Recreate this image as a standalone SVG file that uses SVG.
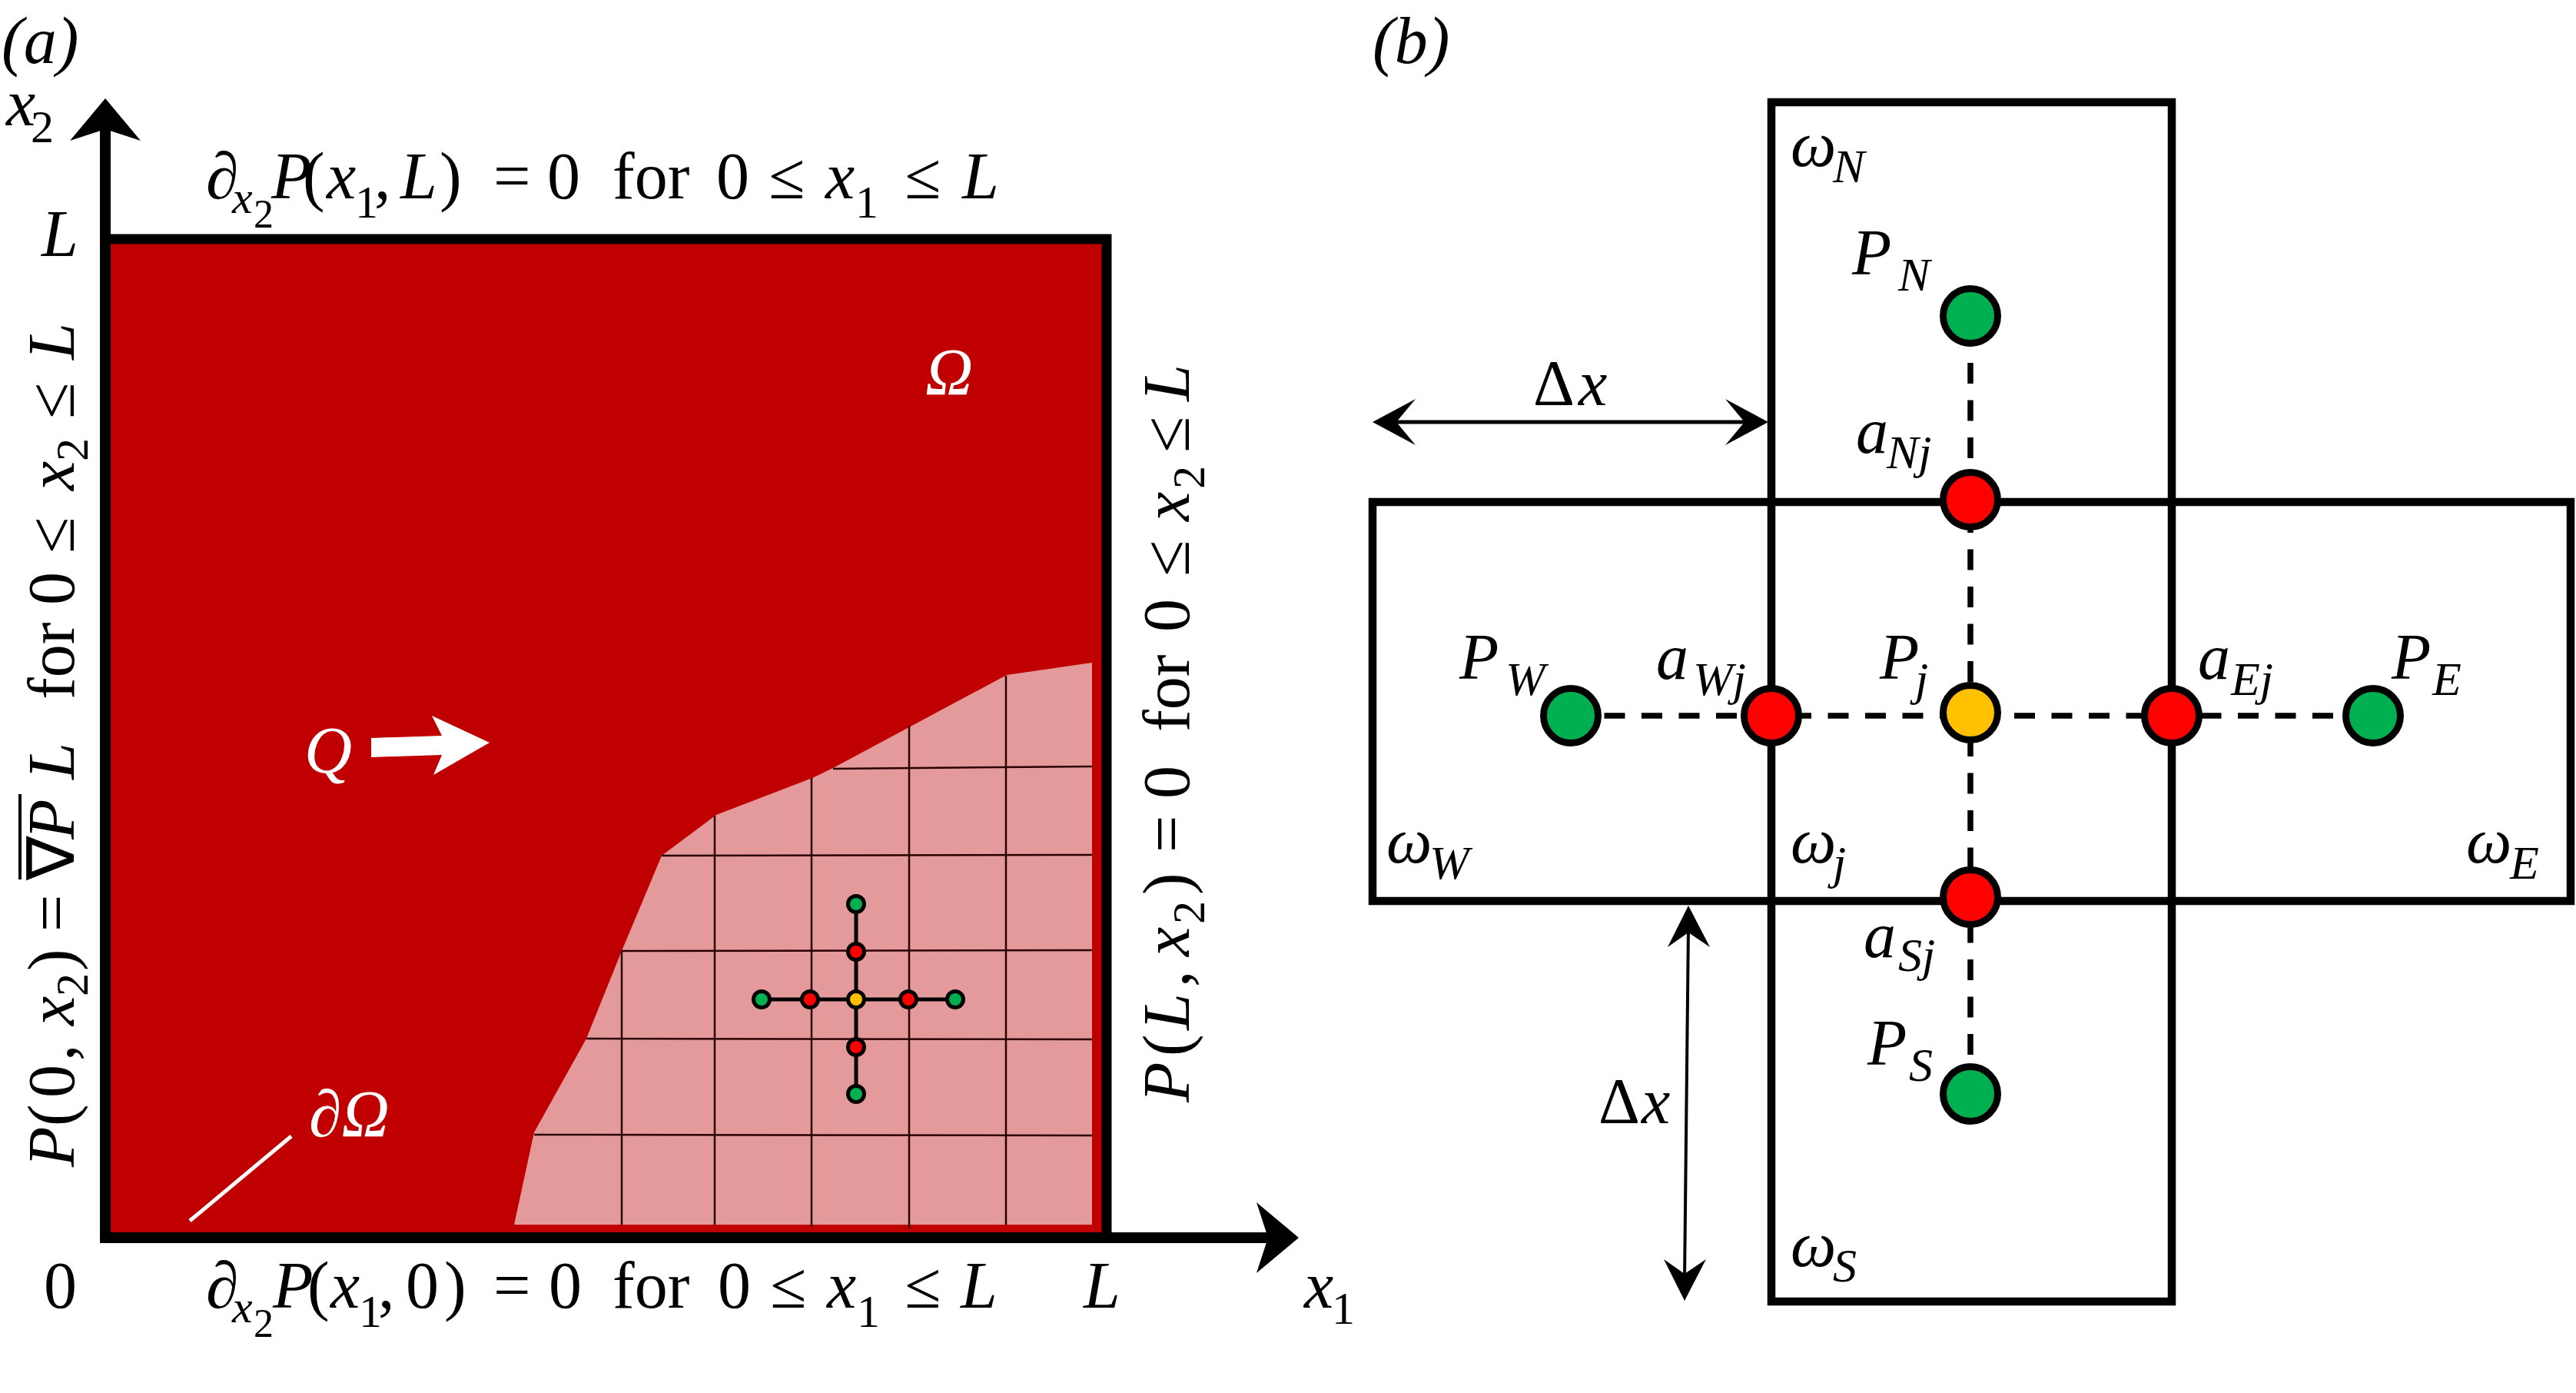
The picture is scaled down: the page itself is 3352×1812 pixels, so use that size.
<svg xmlns="http://www.w3.org/2000/svg" width="3352" height="1812" viewBox="0 0 3352 1812">
<style>
text{font-family:"Liberation Serif","Times New Roman",serif;font-size:86px;fill:#000}
.i{font-style:italic}
.w{fill:#fff}
.s{font-size:60px}
.ss{font-size:52px}
.b{font-size:84px}
.sb{font-size:62px}
.grid{stroke:#2a0000;stroke-width:2.5;fill:none}
.dash{stroke:#000;stroke-width:7.5;stroke-dasharray:27 21.5;fill:none}
.cb{stroke:#000;stroke-width:9}
.ca{stroke:#000;stroke-width:5}
.g{fill:#00B050}.r{fill:#FF0000}.y{fill:#FFC000}
.box{fill:none;stroke:#000;stroke-width:10.5}
.ax{stroke:#000;stroke-width:14;fill:none}
.arr{stroke:#000;stroke-width:5;fill:none}
</style>
<rect width="3352" height="1812" fill="#fff"/>

<g id="panel-a">
  <text id="label-a" class="i" x="2" y="82" font-size="92">(a)</text>
  <rect id="domain" x="138" y="311" width="1302" height="1299" fill="#C00000"/>
  <polygon id="mesh-region" fill="#E49A9A" points="669,1593 695,1473 763,1351 809,1237 861,1113 932,1060 1057,1012 1084,999 1310,878 1421,862 1421,1593"/>
  <g id="mesh" class="grid">
    <line x1="809" y1="1237" x2="809" y2="1593"/>
    <line x1="930" y1="1061" x2="930" y2="1593"/>
    <line x1="1056" y1="1012" x2="1056" y2="1596"/>
    <line x1="1183" y1="944" x2="1183" y2="1598"/>
    <line x1="1309" y1="879" x2="1309" y2="1593"/>
    <line x1="1084" y1="1000" x2="1421" y2="997"/>
    <line x1="861" y1="1113" x2="1421" y2="1112"/>
    <line x1="809" y1="1237" x2="1421" y2="1236"/>
    <line x1="763" y1="1351" x2="1421" y2="1352"/>
    <line x1="695" y1="1476" x2="1421" y2="1477"/>
  </g>
  <g id="stencil-a">
    <line class="ca" x1="991" y1="1300" x2="1243" y2="1300"/>
    <line class="ca" x1="1114" y1="1176" x2="1114" y2="1423"/>
    <circle class="g ca" cx="991" cy="1300" r="10.5"/>
    <circle class="r ca" cx="1054" cy="1300" r="10.5"/>
    <circle class="y ca" cx="1114" cy="1300" r="10.5"/>
    <circle class="r ca" cx="1182" cy="1300" r="10.5"/>
    <circle class="g ca" cx="1243" cy="1300" r="10.5"/>
    <circle class="g ca" cx="1114" cy="1176" r="10.5"/>
    <circle class="r ca" cx="1114" cy="1238" r="10.5"/>
    <circle class="r ca" cx="1114" cy="1362" r="10.5"/>
    <circle class="g ca" cx="1114" cy="1423" r="10.5"/>
  </g>
  <path id="domain-border" d="M131,311 H1440 V1610" fill="none" stroke="#000" stroke-width="13"/>
  <g id="axes">
    <line class="ax" x1="137" y1="1617" x2="137" y2="165"/>
    <polygon points="137,128 91,183 137,168 183,183" fill="#000"/>
    <line class="ax" x1="130" y1="1610" x2="1655" y2="1610"/>
    <polygon points="1690,1610 1635,1564 1650,1610 1635,1656" fill="#000"/>
  </g>
  <text id="x2-label"><tspan class="i" x="8" y="163">x</tspan><tspan class="s" x="40" y="185">2</tspan></text>
  <text id="L-left" class="i" x="54" y="333">L</text>
  <text id="zero" x="57" y="1701">0</text>
  <text id="L-bottom" class="i" x="1410" y="1701">L</text>
  <text id="x1-label"><tspan class="i" x="1697" y="1701">x</tspan><tspan class="s" x="1733" y="1722">1</tspan></text>
  <text id="bc-top"><tspan x="268" y="258">∂</tspan><tspan class="i s" x="302" y="277">x</tspan><tspan class="ss" x="330" y="296">2</tspan><tspan class="i" x="353" y="258">P</tspan><tspan x="394">(</tspan><tspan class="i" x="425">x</tspan><tspan class="s" x="462" y="283">1</tspan><tspan x="487" y="258">,</tspan><tspan class="i" x="521">L</tspan><tspan x="572">)</tspan><tspan x="642">=</tspan><tspan x="712">0</tspan><tspan x="797">for</tspan><tspan x="932">0</tspan><tspan x="1000">≤</tspan><tspan class="i" x="1074">x</tspan><tspan class="s" x="1113" y="283">1</tspan><tspan x="1177" y="258">≤</tspan><tspan class="i" x="1252">L</tspan></text>
  <text id="bc-bottom"><tspan x="268" y="1701">∂</tspan><tspan class="i s" x="302" y="1720">x</tspan><tspan class="ss" x="330" y="1739">2</tspan><tspan class="i" x="355" y="1701">P</tspan><tspan x="400">(</tspan><tspan class="i" x="430">x</tspan><tspan class="s" x="467" y="1726">1</tspan><tspan x="492" y="1701">,</tspan><tspan x="528">0</tspan><tspan x="578">)</tspan><tspan x="642">=</tspan><tspan x="714">0</tspan><tspan x="797">for</tspan><tspan x="934">0</tspan><tspan x="1002">≤</tspan><tspan class="i" x="1076">x</tspan><tspan class="s" x="1115" y="1726">1</tspan><tspan x="1177" y="1701">≤</tspan><tspan class="i" x="1250">L</tspan></text>
  <g id="bc-left" transform="translate(96,1520) rotate(-90)">
    <text><tspan class="i" x="2" y="0">P</tspan><tspan x="55">(</tspan><tspan x="92">0</tspan><tspan x="140">,</tspan><tspan class="i" x="186">x</tspan><tspan class="s" x="224" y="18">2</tspan><tspan x="257" y="0">)</tspan><tspan x="308">=</tspan><tspan x="375">∇</tspan><tspan class="i" x="428">P</tspan><tspan class="i" x="506">L</tspan><tspan x="610">for</tspan><tspan x="733">0</tspan><tspan x="800">≤</tspan><tspan class="i" x="882">x</tspan><tspan class="s" x="920" y="18">2</tspan><tspan x="975" y="0">≤</tspan><tspan class="i" x="1052">L</tspan></text>
    <line x1="376" y1="-70" x2="487" y2="-70" stroke="#000" stroke-width="4"/>
  </g>
  <text id="bc-right" transform="translate(1547,1434) rotate(-90)" font-size="95"><tspan class="i" x="0" y="0">P</tspan><tspan x="60">(</tspan><tspan class="i" x="94">L</tspan><tspan x="150">,</tspan><tspan class="i" x="190">x</tspan><tspan class="s" x="232" y="20">2</tspan><tspan x="270" y="0">)</tspan><tspan x="325">=</tspan><tspan x="395">0</tspan><tspan x="482">for</tspan><tspan x="612">0</tspan><tspan x="684">≤</tspan><tspan class="i" x="756">x</tspan><tspan class="s" x="798" y="20">2</tspan><tspan x="845" y="0">≤</tspan><tspan class="i" x="912">L</tspan></text>
  <text id="omega" class="i w" x="1204" y="513">Ω</text>
  <g id="flow">
    <text class="i w" x="396" y="1005">Q</text>
    <polygon fill="#fff" points="483,960 575,957 562,931 637,966 564,1008 575,982 483,985"/>
  </g>
  <g id="boundary">
    <text class="w" x="402" y="1478">∂<tspan class="i">Ω</tspan></text>
    <line x1="247" y1="1588" x2="379" y2="1478" stroke="#fff" stroke-width="5"/>
  </g>
</g>

<g id="panel-b">
  <text id="label-b" class="i" x="1786" y="82" font-size="92">(b)</text>
  <g id="cell-vertical"><rect class="box" x="2305" y="133" width="521" height="1560"/></g>
  <g id="cell-horizontal"><rect class="box" x="1786" y="653" width="1559" height="519"/></g>
  <g id="connectors">
    <line class="dash" x1="2044" y1="931" x2="3088" y2="931" stroke-dashoffset="5"/>
    <line class="dash" x1="2564" y1="411" x2="2564" y2="1423" stroke-dashoffset="36"/>
    <g id="dx-horizontal">
      <line class="arr" x1="1812" y1="549" x2="2275" y2="549"/>
      <polygon points="1786,549 1842,519 1817,549 1842,579" fill="#000"/>
      <polygon points="2301,549 2245,519 2270,549 2245,579" fill="#000"/>
    </g>
    <g id="dx-vertical">
      <line x1="2197" y1="1205" x2="2192" y2="1665" stroke="#000" stroke-width="4"/>
      <polygon points="2197,1178 2170,1232 2197,1213 2225,1232" fill="#000"/>
      <polygon points="2192,1692 2165,1638 2192,1657 2220,1638" fill="#000"/>
    </g>
  </g>
  <g id="node-PN"><circle class="g cb" cx="2564" cy="411" r="35.5"/></g>
  <g id="node-aN"><circle class="r cb" cx="2564" cy="650" r="35.5"/></g>
  <g id="node-Pj"><circle class="y cb" cx="2564" cy="927" r="35.5"/></g>
  <g id="node-aS"><circle class="r cb" cx="2564" cy="1167" r="35.5"/></g>
  <g id="node-PS"><circle class="g cb" cx="2564" cy="1423" r="35.5"/></g>
  <g id="node-PW"><circle class="g cb" cx="2044" cy="931" r="35.5"/></g>
  <g id="node-aW"><circle class="r cb" cx="2305" cy="931" r="35.5"/></g>
  <g id="node-aE"><circle class="r cb" cx="2826" cy="931" r="35.5"/></g>
  <g id="node-PE"><circle class="g cb" cx="3088" cy="931" r="35.5"/></g>
  <g id="labels-b" class="b">
    <text class="b"><tspan class="i" x="2330" y="216">ω</tspan><tspan class="i sb" x="2385" y="237">N</tspan></text>
    <text class="b"><tspan class="i" x="2410" y="357">P</tspan><tspan class="i sb" x="2470" y="378">N</tspan></text>
    <text class="b"><tspan class="i" x="2415" y="589">a</tspan><tspan class="i sb" x="2455" y="609">Nj</tspan></text>
    <text class="b"><tspan x="1995" y="527">Δ</tspan><tspan class="i" x="2054">x</tspan></text>
    <text class="b"><tspan class="i" x="1899" y="883">P</tspan><tspan class="i sb" x="1959" y="904">W</tspan></text>
    <text class="b"><tspan class="i" x="2155" y="883">a</tspan><tspan class="i sb" x="2203" y="904">Wj</tspan></text>
    <text class="b"><tspan class="i" x="2446" y="883">P</tspan><tspan class="i sb" x="2492" y="904">j</tspan></text>
    <text class="b"><tspan class="i" x="2860" y="883">a</tspan><tspan class="i sb" x="2903" y="904">Ej</tspan></text>
    <text class="b"><tspan class="i" x="3112" y="883">P</tspan><tspan class="i sb" x="3165" y="904">E</tspan></text>
    <text class="b"><tspan class="i" x="1804" y="1122">ω</tspan><tspan class="i sb" x="1860" y="1143">W</tspan></text>
    <text class="b"><tspan class="i" x="2330" y="1122">ω</tspan><tspan class="i sb" x="2385" y="1143">j</tspan></text>
    <text class="b"><tspan class="i" x="3209" y="1122">ω</tspan><tspan class="i sb" x="3266" y="1143">E</tspan></text>
    <text class="b"><tspan class="i" x="2425" y="1245">a</tspan><tspan class="i sb" x="2470" y="1263">Sj</tspan></text>
    <text class="b"><tspan class="i" x="2430" y="1385">P</tspan><tspan class="i sb" x="2484" y="1406">S</tspan></text>
    <text class="b"><tspan class="i" x="2330" y="1647">ω</tspan><tspan class="i sb" x="2385" y="1667">S</tspan></text>
    <text class="b"><tspan x="2080" y="1461">Δ</tspan><tspan class="i" x="2136">x</tspan></text>
  </g>
</g>
</svg>
